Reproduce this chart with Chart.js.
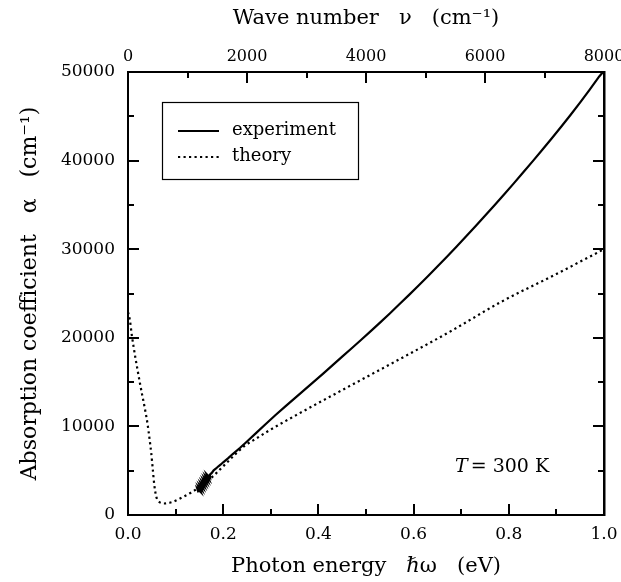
<!DOCTYPE html>
<html><head><meta charset="utf-8">
<script src="https://cdn.jsdelivr.net/npm/chart.js@4.4.1/dist/chart.umd.min.js"></script>
<style>html,body{margin:0;padding:0;background:#fff}#c{display:block}</style>
</head><body>
<div style="width:621px;height:582px"><canvas id="c" width="621" height="582"></canvas></div>
<script>
// ---- data ----
const expEnergy = [0.148,0.1455,0.1525,0.148,0.155,0.1505,0.1575,0.153,0.160,0.1555,0.1625,0.158,0.165,0.1605,0.1675,0.163,0.170,0.1655,0.1725,0.172,0.176,0.180,0.185,0.19,0.195,0.20,0.21,0.22,0.235,0.25,0.27,0.29,0.31,0.33,0.35,0.37,0.39,0.41,0.43,0.45,0.47,0.49,0.51,0.53,0.55,0.57,0.59,0.61,0.63,0.65,0.67,0.69,0.71,0.73,0.75,0.77,0.79,0.81,0.83,0.85,0.87,0.89,0.91,0.93,0.95,0.97,0.99,0.998];
const expAlpha  = [2550,2990,2610,3190,2810,3390,3010,3590,3210,3790,3410,3990,3610,4190,3810,4390,4010,4590,4210,4550,4750,5050,5250,5500,5700,5950,6400,6880,7560,8300,9300,10300,11280,12230,13170,14100,15020,15960,16920,17880,18820,19780,20750,21740,22750,23780,24820,25880,26950,28050,29150,30280,31420,32590,33770,34960,36170,37400,38650,39910,41190,42490,43820,45180,46580,48020,49500,50000];
const theoEnergy = [0.000,0.004,0.008,0.012,0.016,0.020,0.025,0.030,0.036,0.041,0.045,0.049,0.052,0.055,0.058,0.061,0.065,0.070,0.077,0.085,0.095,0.105,0.118,0.130,0.142,0.155,0.170,0.185,0.200,0.215,0.230,0.245,0.27,0.30,0.361,0.45,0.571,0.68,0.782,0.90,1.0];
const theoAlpha  = [22900,22000,20300,18900,17600,16400,14900,13500,11850,10300,8700,6900,5200,3500,2400,1800,1500,1350,1300,1350,1500,1750,2100,2450,2850,3300,3950,4700,5500,6300,7100,7800,8650,9650,11500,14100,17600,20800,24000,27200,30000];
const seriesNames = ['experiment', 'theory'];
const xTickLabels = ['0.0','0.2','0.4','0.6','0.8','1.0'];
const yTickLabels = ['0','10000','20000','30000','40000','50000'];
const topTickLabels = ['0','2000','4000','6000','8000'];
const tempText = ['T', '= 300 K'];

const SERIF = '"DejaVu Serif", "Liberation Serif", serif';
const tickFont = {family: SERIF, size: 17};
const topTickFont = {family: SERIF, size: 16};
const titleFont = {family: SERIF, size: 21};
const leftTitleFont = {family: SERIF, size: 22};

const expData = expEnergy.map((e, i) => ({x: e, y: expAlpha[i]}));
const theoData = theoEnergy.map((e, i) => ({x: e, y: theoAlpha[i]}));

const inwardTicks = {
  id: 'inwardTicks',
  afterDraw(chart) {
    const ctx = chart.ctx, a = chart.chartArea;
    const sx = chart.scales.x, sx2 = chart.scales.x2, sy = chart.scales.y;
    const MAJ = 11, MIN = 6;
    ctx.save();
    ctx.strokeStyle = '#000'; ctx.lineWidth = 2; ctx.lineCap = 'butt';
    const seg = (x1, y1, x2, y2) => { ctx.beginPath(); ctx.moveTo(x1, y1); ctx.lineTo(x2, y2); ctx.stroke(); };
    sx.ticks.forEach(t => {
      const p = Math.round(sx.getPixelForValue(t.value));
      const L = Math.round(t.value * 10) % 2 === 0 ? MAJ : MIN;
      seg(p, a.bottom, p, a.bottom - L);
    });
    sx2.ticks.forEach(t => {
      const p = Math.round(sx2.getPixelForValue(t.value));
      const L = Math.round(t.value / 1000) % 2 === 0 ? MAJ : MIN;
      seg(p, a.top, p, a.top + L);
    });
    sy.ticks.forEach(t => {
      const p = Math.round(sy.getPixelForValue(t.value));
      const L = Math.round(t.value / 5000) % 2 === 0 ? MAJ : MIN;
      seg(a.left, p, a.left + L, p);
      seg(a.right, p, a.right - L, p);
    });
    ctx.restore();
  }
};

const boxLegend = {
  id: 'boxLegend',
  afterDraw(chart) {
    const ctx = chart.ctx;
    ctx.save();
    ctx.strokeStyle = '#000'; ctx.lineWidth = 1.2;
    ctx.strokeRect(162.5, 102.5, 196, 77);
    const rows = [131, 157];
    chart.data.datasets.forEach((ds, i) => {
      const y = rows[i];
      ctx.beginPath();
      ctx.lineWidth = ds.borderWidth;
      ctx.setLineDash(ds.borderDash || []);
      ctx.moveTo(178, y); ctx.lineTo(219, y); ctx.stroke();
      ctx.setLineDash([]);
      ctx.fillStyle = '#000';
      ctx.font = '18px ' + SERIF;
      ctx.textBaseline = 'middle'; ctx.textAlign = 'left';
      ctx.fillText(ds.label, 232, y - 1);
    });
    // temperature annotation
    ctx.textBaseline = 'middle';
    ctx.font = 'italic 19px ' + SERIF;
    ctx.fillText(tempText[0], 455, 467);
    const w = ctx.measureText(tempText[0]).width;
    ctx.font = '19px ' + SERIF;
    ctx.fillText(tempText[1], 455 + w + 3, 467);
    ctx.restore();
  }
};

new Chart(document.getElementById('c'), {
  type: 'line',
  data: {
    datasets: [
      {label: seriesNames[0], data: expData, borderColor: '#000', borderWidth: 2.2, pointRadius: 0, tension: 0, fill: false},
      {label: seriesNames[1], data: theoData, borderColor: '#000', borderWidth: 2.2, borderDash: [2.2, 3.3], pointRadius: 0, cubicInterpolationMode: 'monotone', fill: false}
    ]
  },
  options: {
    responsive: false, animation: false, devicePixelRatio: 1,
    layout: {padding: 0},
    plugins: {legend: {display: false}, tooltip: {enabled: false}},
    scales: {
      x: {
        type: 'linear', position: 'bottom', min: 0, max: 1,
        grid: {display: false, drawTicks: false},
        border: {display: true, color: '#000', width: 2},
        ticks: {stepSize: 0.1, autoSkip: false, maxRotation: 0, color: '#000', font: tickFont, padding: 9,
          callback: v => { const i = Math.round(v * 10); return i % 2 === 0 ? xTickLabels[i / 2] : ''; }},
        title: {display: true, text: 'Photon energy   \u210F\u03C9   (eV)', color: '#000', font: titleFont, padding: {top: 3, bottom: 3}},
        afterFit: s => { s.height = 67; s.paddingLeft = 0; s.paddingRight = 0; }
      },
      x2: {
        type: 'linear', axis: 'x', position: 'top', min: 0, max: 8000,
        grid: {display: false, drawTicks: false},
        border: {display: true, color: '#000', width: 2},
        ticks: {stepSize: 1000, autoSkip: false, maxRotation: 0, color: '#000', font: topTickFont, padding: 6,
          callback: v => { const i = Math.round(v / 1000); return i % 2 === 0 ? topTickLabels[i / 2] : ''; }},
        title: {display: true, text: 'Wave number   \u03BD   (cm\u207B\u00B9)', color: '#000', font: titleFont, padding: {top: 6, bottom: 6}},
        afterFit: s => { s.height = 72; s.paddingLeft = 0; s.paddingRight = 0; }
      },
      y: {
        type: 'linear', position: 'left', min: 0, max: 50000,
        grid: {display: false, drawTicks: false},
        border: {display: true, color: '#000', width: 2},
        ticks: {stepSize: 5000, autoSkip: false, color: '#000', font: tickFont, padding: 13,
          callback: v => { const i = Math.round(v / 5000); return i % 2 === 0 ? yTickLabels[i / 2] : ''; }},
        title: {display: true, text: 'Absorption coefficient   \u03B1   (cm\u207B\u00B9)', color: '#000', font: leftTitleFont, padding: {top: 17, bottom: 17}},
        afterFit: s => { s.width = 128; s.paddingTop = 0; s.paddingBottom = 0; }
      },
      y2: {
        type: 'linear', position: 'right', min: 0, max: 50000,
        grid: {display: false, drawTicks: false},
        border: {display: true, color: '#000', width: 2.5},
        ticks: {display: false},
        afterFit: s => { s.width = 17; s.paddingTop = 0; s.paddingBottom = 0; }
      }
    }
  },
  plugins: [inwardTicks, boxLegend]
});
</script>
</body></html>
